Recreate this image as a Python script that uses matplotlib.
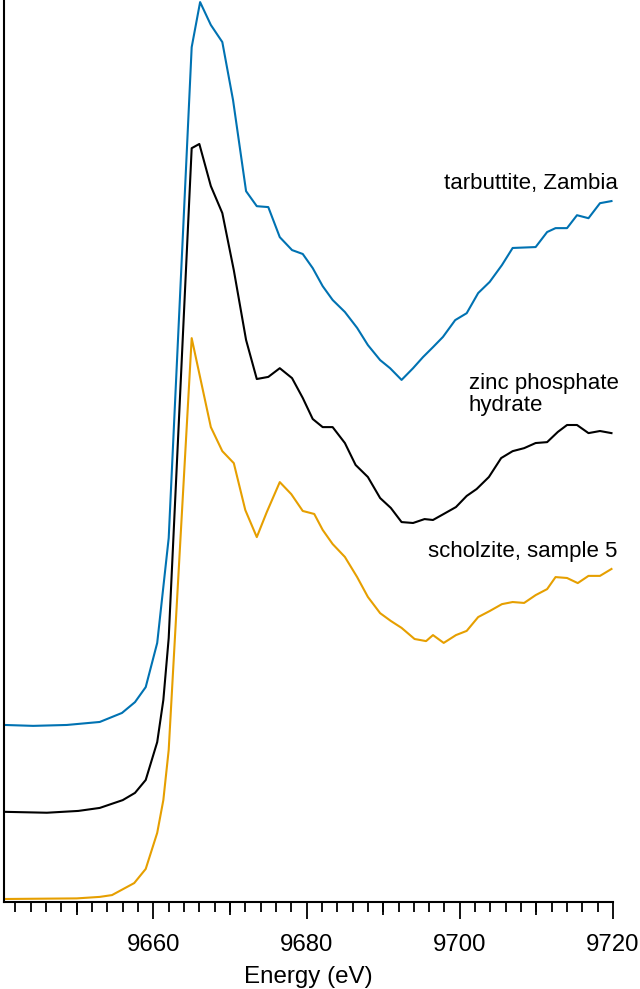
import matplotlib
matplotlib.use("Agg")
import matplotlib.pyplot as plt

plt.rcParams['font.family'] = ['Liberation Sans', 'DejaVu Sans']

# Zn K-edge XANES, stacked (arbitrary units, offsets included)
energy_tarb = [9640.6, 9644.3, 9648.7, 9653.0, 9655.9, 9657.6, 9659.0, 9660.5, 9662.0,
               9665.0, 9666.1, 9667.5, 9669.0, 9670.4, 9672.1, 9673.5, 9675.0, 9676.5,
               9678.1, 9679.5, 9680.8, 9682.1, 9683.4, 9685.0, 9686.6, 9688.0, 9689.6,
               9690.9, 9692.4, 9693.9, 9695.2, 9696.5, 9697.8, 9699.4, 9700.9, 9702.4,
               9703.9, 9705.5, 9706.9, 9709.9, 9711.4, 9712.5, 9714.0, 9715.3, 9716.8,
               9718.3, 9719.8]
tarbuttite = [0.588, 0.585, 0.588, 0.598, 0.628, 0.664, 0.714, 0.861, 1.210,
              2.843, 2.993, 2.917, 2.860, 2.667, 2.364, 2.314, 2.311, 2.211,
              2.168, 2.155, 2.108, 2.048, 2.002, 1.962, 1.909, 1.852, 1.802,
              1.775, 1.736, 1.775, 1.812, 1.845, 1.879, 1.935, 1.958, 2.025,
              2.062, 2.118, 2.175, 2.178, 2.228, 2.241, 2.241, 2.284, 2.274,
              2.324, 2.331]

energy_znp = [9640.6, 9646.1, 9650.2, 9653.0, 9656.0, 9657.6, 9659.0, 9660.5, 9661.3,
              9662.0, 9665.0, 9666.0, 9667.5, 9669.0, 9670.5, 9672.1, 9673.5, 9675.0,
              9676.5, 9678.1, 9679.5, 9680.8, 9682.1, 9683.4, 9685.0, 9686.4, 9688.0,
              9689.6, 9691.0, 9692.4, 9693.9, 9695.4, 9696.5, 9697.9, 9699.5, 9700.9,
              9702.2, 9703.8, 9705.4, 9706.9, 9708.4, 9709.9, 9711.4, 9712.8, 9714.0,
              9715.3, 9716.8, 9718.3, 9719.8]
zinc_phosphate = [0.299, 0.296, 0.302, 0.312, 0.338, 0.362, 0.405, 0.531, 0.671,
                  0.877, 2.507, 2.521, 2.381, 2.291, 2.101, 1.869, 1.739, 1.746,
                  1.775, 1.742, 1.676, 1.606, 1.579, 1.579, 1.526, 1.453, 1.413,
                  1.343, 1.310, 1.263, 1.260, 1.273, 1.270, 1.290, 1.313, 1.350,
                  1.373, 1.413, 1.476, 1.499, 1.509, 1.526, 1.529, 1.563, 1.586,
                  1.586, 1.559, 1.566, 1.559]

energy_sch = [9640.6, 9650.0, 9653.0, 9654.6, 9657.5, 9659.0, 9660.5, 9661.3, 9662.0,
              9662.6, 9665.0, 9667.5, 9669.0, 9670.5, 9672.0, 9673.5, 9674.8, 9676.5,
              9678.0, 9679.5, 9681.0, 9682.1, 9683.4, 9685.0, 9686.6, 9688.0, 9689.6,
              9691.0, 9692.4, 9694.1, 9695.6, 9696.5, 9697.9, 9699.5, 9700.9, 9702.4,
              9703.9, 9705.5, 9706.9, 9708.4, 9709.9, 9711.4, 9712.5, 9714.0, 9715.4,
              9716.8, 9718.3, 9719.8]
scholzite = [0.009, 0.011, 0.016, 0.022, 0.062, 0.109, 0.229, 0.338, 0.505,
             0.781, 1.875, 1.579, 1.499, 1.459, 1.303, 1.213, 1.296, 1.396,
             1.356, 1.300, 1.290, 1.237, 1.190, 1.147, 1.080, 1.014, 0.960,
             0.934, 0.911, 0.874, 0.867, 0.887, 0.861, 0.887, 0.901, 0.947,
             0.967, 0.990, 0.997, 0.994, 1.020, 1.040, 1.080, 1.077, 1.060,
             1.084, 1.084, 1.107]

fig = plt.figure(figsize=(6.4, 9.89), dpi=100)
ax = fig.add_axes([4 / 640, (989 - 901.7) / 989, 609 / 640, 901.7 / 989])

ax.plot(energy_tarb, tarbuttite, color='#0072B2', lw=1.5)
ax.plot(energy_znp, zinc_phosphate, color='black', lw=1.5)
ax.plot(energy_sch, scholzite, color='#E69F00', lw=1.5)

ax.set_xlim(9640.5, 9720)
ax.set_ylim(0, 3.0)

ax.spines['top'].set_visible(False)
ax.spines['right'].set_visible(False)
ax.spines['left'].set_linewidth(1.5)
ax.spines['bottom'].set_linewidth(1.5)
ax.set_yticks([])

ax.set_xticks([9660, 9680, 9700, 9720])
ax.set_xticks(range(9642, 9721, 2), minor=True)
ax.tick_params(axis='x', which='major', length=12.5, width=1.3, labelsize=17.3, pad=11)
ax.tick_params(axis='x', which='minor', length=7, width=1.3)

# medium ticks every 10 eV
sec = ax.secondary_xaxis('bottom')
sec.spines['bottom'].set_visible(False)
sec.set_xticks([9650, 9670, 9690, 9710])
sec.set_xticklabels([])
sec.tick_params(axis='x', length=9.5, width=1.3)

ax.set_xlabel('Energy (eV)', fontsize=17.4, labelpad=7)

fig.text(618 / 640, 1 - 183 / 989, 'tarbuttite, Zambia', fontsize=16,
         ha='right', va='center')
fig.text(469 / 640, 1 - 394.5 / 989, 'zinc phosphate\nhydrate', fontsize=16,
         ha='left', va='center', linespacing=1.12)
fig.text(617 / 640, 1 - 552 / 989, 'scholzite, sample 5', fontsize=16,
         ha='right', va='center')

fig.savefig('out.png', dpi=100)
